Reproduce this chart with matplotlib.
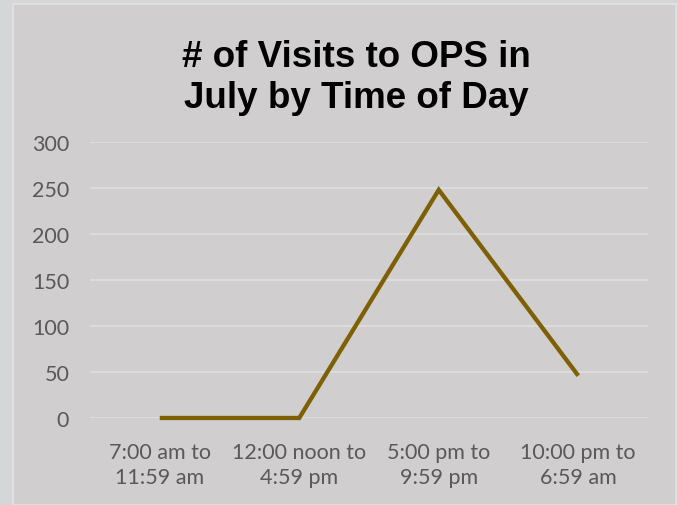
import matplotlib.pyplot as plt
from matplotlib.patches import Rectangle

# data
categories = ['7:00 am to\n11:59 am', '12:00 noon to\n4:59 pm',
              '5:00 pm to\n9:59 pm', '10:00 pm to\n6:59 am']
visits = [0, 0, 248, 46]
yticks = [0, 50, 100, 150, 200, 250, 300]

title = '# of Visits to OPS in\nJuly by Time of Day'

fig = plt.figure(figsize=(6.78, 5.06), dpi=100)
fig.patch.set_facecolor('#d5d6d8')

# inner chart panel with a light border
panel = Rectangle((13 / 678, 0), 663 / 678, 1 - 5 / 506, transform=fig.transFigure,
                  facecolor='#d0cece', edgecolor='#e2e2e2', linewidth=1.2, zorder=-1)
fig.patches.append(panel)

ax = fig.add_axes([90 / 678, 1 - 419 / 506, 558 / 678, 276 / 506])
ax.set_zorder(2)
ax.set_facecolor('none')

x = list(range(len(categories)))
ax.plot(x, visits, color='#7f6000', linewidth=3.1, solid_capstyle='butt',
        solid_joinstyle='miter', zorder=3, clip_on=False)

ax.set_xlim(-0.5, len(categories) - 0.5)
ax.set_ylim(0, 300)
ax.set_yticks(yticks)
ax.set_xticks(x)
ax.set_xticklabels(categories)

for s in ax.spines.values():
    s.set_visible(False)
ax.grid(axis='y', color='#e0e0e0', linewidth=1.1)
ax.set_axisbelow(True)
ax.tick_params(length=0, colors='#595959', labelsize=15.5)
ax.tick_params(axis='y', pad=15)
ax.tick_params(axis='x', pad=17)
for lab in ax.get_xticklabels() + ax.get_yticklabels():
    lab.set_family('Lato')
    lab.set_color('#595959')
for lab in ax.get_xticklabels():
    lab.set_linespacing(1.35)

fig.text(356 / 678, 1 - 78 / 506, title, ha='center', va='center',
         fontsize=26.5, fontweight='bold', family='Liberation Sans',
         color='black', linespacing=1.25, zorder=3)

plt.savefig('out.png', dpi=100, facecolor=fig.get_facecolor())
plt.close()
